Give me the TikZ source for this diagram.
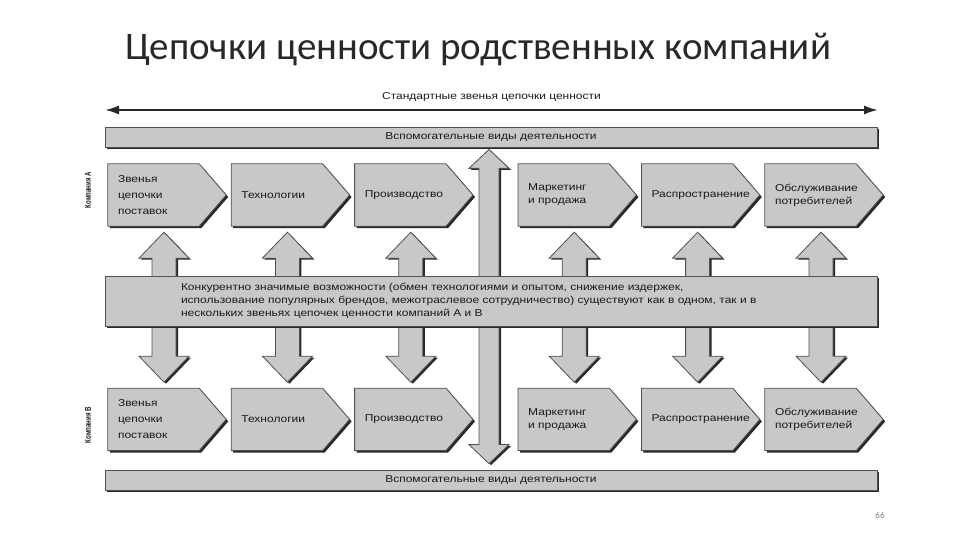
\documentclass[tikz,border=0pt]{standalone}
\usepackage{fontspec}
\setmainfont{Liberation Sans}
\newfontfamily\titlefont{Carlito}
\newfontfamily\scanfont{Liberation Sans}[FakeStretch=1.2]
\newfontfamily\sidefont{Liberation Sans}[FakeStretch=0.72]
\usepackage{tikz}
\usetikzlibrary{arrows.meta,positioning,calc,backgrounds,shadows}
\definecolor{scanfill}{RGB}{200,200,200}
\definecolor{scanedge}{RGB}{80,80,80}
\definecolor{scanshade}{RGB}{40,40,40}
\definecolor{scantext}{RGB}{25,25,25}
\definecolor{slidetext}{RGB}{40,40,40}
\newcommand{\blockarrow}[5]{%
  \draw[arrowbody] let \p1=(#1), \p2=(#2) in
    (\x1,\y1) -- (\x1+#4pt,\y1-#5pt) -- (\x1+#3pt,\y1-#5pt) -- (\x1+#3pt,\y2+#5pt)
    -- (\x1+#4pt,\y2+#5pt) -- (\x1,\y2) -- (\x1-#4pt,\y2+#5pt) -- (\x1-#3pt,\y2+#5pt)
    -- (\x1-#3pt,\y1-#5pt) -- (\x1-#4pt,\y1-#5pt) -- cycle;}
\begin{document}
\begin{tikzpicture}[
    x=1pt, y=1pt,
    linkbox/.style={rectangle, minimum width=118pt, minimum height=62pt, text width=98pt, inner xsep=10pt, inner ysep=0pt, align=left, font=\scanfont\fontsize{10}{13}\selectfont, text=scantext},
    chevron/.style={fill=scanfill, draw=scanedge, line width=0.8pt, drop shadow={fill=scanshade, opacity=1, shadow xshift=2pt, shadow yshift=-2pt}},
    auxbar/.style={rectangle, fill=scanfill, draw=scanedge, line width=0.8pt, minimum width=772pt, minimum height=20pt, inner sep=0pt, font=\scanfont\fontsize{10}{12}\selectfont, text=scantext, drop shadow={fill=scanshade, opacity=1, shadow xshift=2pt, shadow yshift=-2pt}},
    sharedbar/.style={auxbar, minimum height=50pt, text width=620pt, align=left, font=\scanfont\fontsize{10}{13}\selectfont},
    arrowbody/.style={fill=scanfill, draw=scanedge, line width=0.8pt, drop shadow={fill=scanshade, opacity=1, shadow xshift=2pt, shadow yshift=-1.5pt}},
    spanline/.style={{Latex[length=14pt,width=9pt]}-{Latex[length=14pt,width=9pt]}, line width=1.8pt, scanshade},
    sidelabel/.style={rotate=90, font=\sidefont\bfseries\fontsize{8.5}{10}\selectfont, text=scantext},
]
\useasboundingbox (0,0) rectangle (960,540);
\node[font=\titlefont\fontsize{39}{47}\selectfont, text=slidetext] (title) at (478,490) {Цепочки ценности родственных компаний};
\coordinate (stdL) at (105,430);
\coordinate (stdR) at (878,430);
\draw[spanline] (stdL) -- (stdR) node[midway, above=4pt, font=\scanfont\fontsize{10}{12}\selectfont, text=scantext] {Стандартные звенья цепочки ценности};
\node[auxbar] (auxtop) at (491,403) {Вспомогательные виды деятельности};
\node[auxbar] (auxbot) at (491,60) {Вспомогательные виды деятельности};
\node[linkbox] (a1) at (167,345) {Звенья\\[3pt]цепочки\\[3pt]поставок};
\node[linkbox, right=5pt of a1] (a2) {Технологии};
\node[linkbox, right=5pt of a2] (a3) {Производство};
\node[linkbox, right=45pt of a3] (a4) {Маркетинг\\и продажа};
\node[linkbox, right=5pt of a4] (a5) {Распространение};
\node[linkbox, right=5pt of a5] (a6) {Обслуживание\\потребителей};
\node[linkbox, below=162pt of a1] (b1) {Звенья\\[3pt]цепочки\\[3pt]поставок};
\node[linkbox, right=5pt of b1] (b2) {Технологии};
\node[linkbox, right=5pt of b2] (b3) {Производство};
\node[linkbox, right=45pt of b3] (b4) {Маркетинг\\и продажа};
\node[linkbox, right=5pt of b4] (b5) {Распространение};
\node[linkbox, right=5pt of b5] (b6) {Обслуживание\\потребителей};
\node[sharedbar] (shared) at (491,239) {Конкурентно значимые возможности (обмен технологиями и опытом, снижение издержек,\\использование популярных брендов, межотраслевое сотрудничество) существуют как в одном, так и в\\нескольких звеньях цепочек ценности компаний А и В};
\node[sidelabel] (compA) at (88,350) {Компания А};
\node[sidelabel] (compB) at (88,115) {Компания В};
\node[font=\titlefont\fontsize{9}{10}\selectfont, text=gray] (pagenum) at (880,25) {66};
\begin{scope}[on background layer]
\foreach \n in {a1,a2,a3,a4,a5,a6,b1,b2,b3,b4,b5,b6}{
  \draw[chevron] (\n.north west) -- ($(\n.north east)+(-27,0)$) -- (\n.east) -- ($(\n.south east)+(-27,0)$) -- (\n.south west) -- cycle;
}
\blockarrow{$(auxtop.south)+(-2,-2)$}{$(auxbot.north)+(-2,6)$}{10}{20}{19}
\foreach \i in {1,...,6}{
  \blockarrow{$(a\i.south)+(-3,-6)$}{$(b\i.north)+(-3,6)$}{12}{25}{26}
}
\end{scope}
\end{tikzpicture}
\end{document}
